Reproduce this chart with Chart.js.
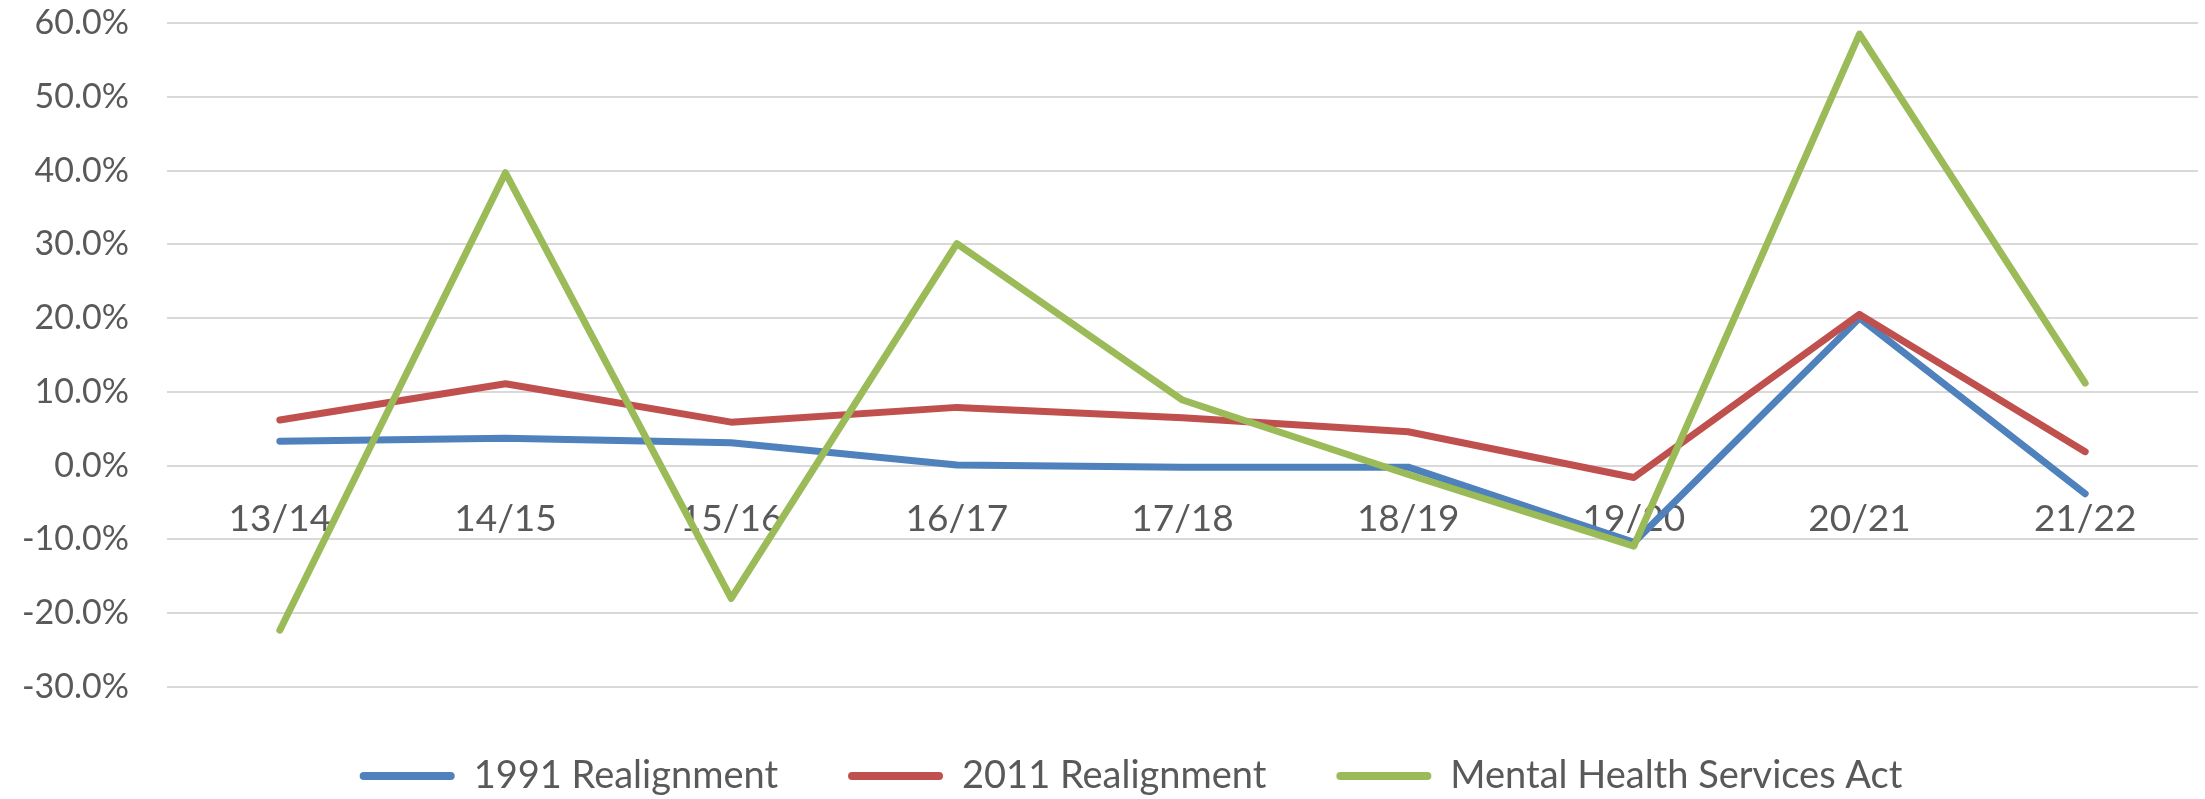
<!DOCTYPE html>
<html>
<head>
<meta charset="utf-8">
<script src="https://cdn.jsdelivr.net/npm/chart.js@4/dist/chart.umd.min.js"></script>
<style>
  html, body { margin: 0; padding: 0; background: #fff; }
  #chart { display: block; }
</style>
</head>
<body>
<canvas id="chart" width="2205" height="799"></canvas>
<script>
const years = ['13/14', '14/15', '15/16', '16/17', '17/18', '18/19', '19/20', '20/21', '21/22'];
const realign1991 = [3.3, 3.7, 3.1, 0.1, -0.2, -0.2, -10.4, 20.0, -3.8];
const realign2011 = [6.2, 11.1, 5.9, 7.9, 6.5, 4.6, -1.6, 20.5, 1.9];
const mhsa = [-22.3, 39.7, -18.0, 30.1, 8.9, -1.2, -10.9, 58.5, 11.2];

const textColor = '#595959';
const ctx = document.querySelector('#chart').getContext('2d');

const lineStyle = color => ({
  borderColor: color,
  backgroundColor: color,
  borderWidth: 7,
  borderCapStyle: 'round',
  borderJoinStyle: 'round',
  pointRadius: 0,
  tension: 0,
  fill: false
});

// legend in the reference is centred a bit right of the canvas middle
const nudgeLegend = {
  id: 'nudgeLegend',
  afterLayout(chart) {
    if (chart.legend) chart.legend.left += 48;
  }
};

new Chart(ctx, {
  type: 'line',
  data: {
    labels: years,
    datasets: [
      { label: '1991 Realignment', data: realign1991, order: 3, ...lineStyle('#4F81BD') },
      { label: '2011 Realignment', data: realign2011, order: 2, ...lineStyle('#C0504D') },
      { label: 'Mental Health Services Act', data: mhsa, order: 1, ...lineStyle('#9BBB59') }
    ]
  },
  plugins: [nudgeLegend],
  options: {
    responsive: false,
    animation: false,
    devicePixelRatio: 1,
    layout: { padding: { left: 16, right: 7, top: 23, bottom: -6 } },
    scales: {
      x: {
        position: { y: 0 },
        offset: true,
        grid: { display: false },
        border: { display: false },
        ticks: {
          color: textColor,
          font: { family: 'Lato', size: 37 },
          padding: 23,
          maxRotation: 0,
          autoSkip: false
        },
        afterFit: scale => { scale.height = 0; }
      },
      y: {
        min: -30,
        max: 60,
        grid: { color: '#D9D9D9', lineWidth: 2, drawTicks: false },
        border: { display: false },
        ticks: {
          stepSize: 10,
          color: textColor,
          font: { family: 'Lato', size: 34 },
          padding: 38,
          callback: v => v.toFixed(1) + '%'
        },
        // keep the plot area where the reference has it
        afterFit: scale => {
          scale.width = 151;
          scale.paddingTop = 0;
          scale.paddingBottom = 0;
        }
      }
    },
    plugins: {
      tooltip: { enabled: false },
      legend: {
        position: 'bottom',
        labels: {
          color: textColor,
          font: { family: 'Lato', size: 38 },
          boxWidth: 95,
          boxHeight: 8,
          padding: 70,
          useBorderRadius: true,
          borderRadius: 4,
          sort: (a, b) => a.datasetIndex - b.datasetIndex,
          generateLabels: chart =>
            Chart.defaults.plugins.legend.labels.generateLabels(chart)
              .map(item => ({ ...item, lineWidth: 0 }))
        }
      }
    }
  }
});
</script>
</body>
</html>
